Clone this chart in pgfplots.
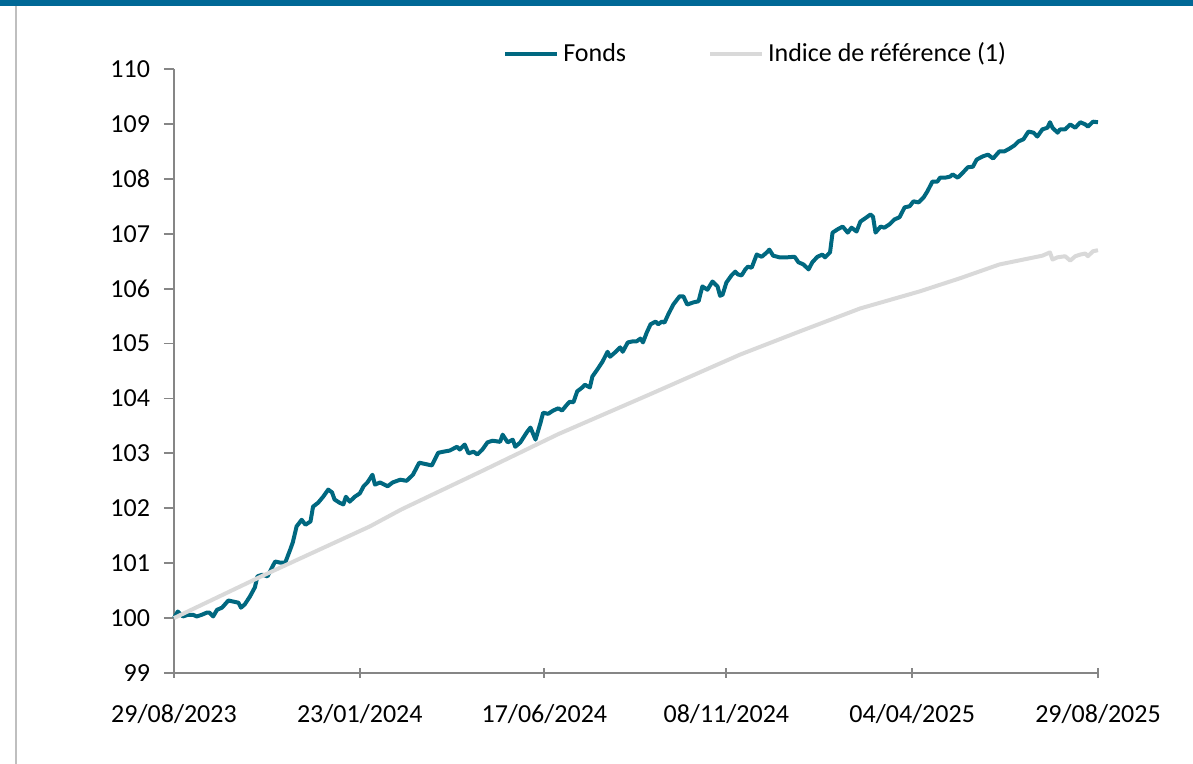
\documentclass[border=0pt]{standalone}
\usepackage{fontspec}
\setmainfont{Carlito}
\usepackage{pgfplots}
\pgfplotsset{compat=1.18}
\definecolor{fonds}{RGB}{0,104,128}
\definecolor{indice}{RGB}{217,217,217}
\definecolor{axisgray}{RGB}{134,134,134}
\definecolor{topbar}{RGB}{0,104,150}
\begin{document}
\begin{tikzpicture}
\path[use as bounding box] (0pt,0pt) rectangle (596.5pt,382pt);
\fill[topbar] (0pt,379pt) rectangle (596.5pt,382pt);
\fill[black!25] (7.5pt,0pt) rectangle (8.7pt,379pt);
\begin{axis}[
  at={(87pt,45.5pt)}, anchor=south west,
  scale only axis, width=462pt, height=302pt,
  xmin=0, xmax=731, ymin=99, ymax=110,
  axis x line*=bottom, axis y line*=left,
  axis line style={axisgray, line width=0.9pt},
  every tick/.style={axisgray, line width=0.9pt},
  xtick align=center, ytick align=outside,
  major tick length=5pt,
  xtick={0,147,293,437,584,731},
  xticklabels={29/08/2023,23/01/2024,17/06/2024,08/11/2024,04/04/2025,29/08/2025},
  ytick={99,100,...,110},
  /pgf/number format/assume math mode=true,
  tick label style={font=\fontsize{13}{15}\selectfont, text=black},
  xticklabel style={yshift=-9.5pt},
  yticklabel style={xshift=-3.5pt},
  legend style={draw=none, fill=none, at={(0.356,1.025)}, anchor=west,
    font=\fontsize{13}{15}\selectfont, inner sep=0pt,
    /tikz/every even column/.append style={column sep=39pt}},
  legend columns=2,
  legend image code/.code={\draw[#1] (0pt,0pt) -- (26pt,0pt);},
  clip=false,
]
\addplot[fonds, line width=2pt, line join=round] coordinates {
(0,100.00)(3,100.12)(7,100.03)(11,100.06)(15,100.06)(18,100.03)(22,100.06)(26,100.10)(28,100.10)(31,100.03)
(34,100.15)(38,100.19)(43,100.32)(47,100.30)(51,100.28)(53,100.19)(56,100.25)(60,100.39)(64,100.56)(66,100.76)
(70,100.79)(74,100.76)(78,100.94)(80,101.03)(84,101.01)(88,101.01)(92,101.25)(94,101.38)(97,101.67)(101,101.79)
(104,101.70)(108,101.76)(110,102.03)(114,102.10)(118,102.21)(122,102.34)(125,102.29)(127,102.16)(131,102.10)(134,102.07)
(136,102.21)(139,102.12)(143,102.21)(147,102.27)(150,102.40)(153,102.47)(157,102.61)(159,102.43)(163,102.47)(169,102.40)
(173,102.47)(179,102.52)(184,102.50)(189,102.61)(194,102.83)(200,102.80)(204,102.78)(209,103.01)(213,103.03)(218,103.05)
(224,103.12)(226,103.07)(230,103.16)(233,103.00)(237,103.03)(240,102.98)(244,103.07)(248,103.20)(252,103.23)(258,103.21)
(260,103.34)(264,103.20)(268,103.25)(270,103.12)(274,103.20)(279,103.38)(282,103.47)(286,103.25)(290,103.56)(292,103.74)
(296,103.72)(300,103.78)(304,103.82)(307,103.78)(311,103.89)(313,103.94)(316,103.93)(319,104.13)(323,104.20)(325,104.25)
(329,104.20)(331,104.40)(335,104.53)(339,104.67)(343,104.85)(345,104.76)(349,104.84)(353,104.93)(355,104.85)(359,105.02)
(363,105.04)(366,105.04)(369,105.09)(371,105.02)(374,105.20)(377,105.35)(381,105.40)(383,105.35)(386,105.40)(388,105.38)
(391,105.53)(395,105.71)(400,105.86)(403,105.86)(406,105.71)(411,105.75)(415,105.77)(418,106.04)(422,105.98)(426,106.13)
(430,106.04)(432,105.87)(434,105.89)(437,106.11)(441,106.24)(444,106.31)(446,106.26)(449,106.24)(452,106.35)(454,106.40)
(457,106.38)(461,106.62)(465,106.58)(469,106.66)(471,106.71)(474,106.60)(479,106.57)(485,106.57)(491,106.58)(494,106.48)
(498,106.44)(502,106.35)(505,106.48)(509,106.58)(513,106.62)(515,106.57)(519,106.66)(521,107.02)(525,107.08)(529,107.13)
(533,107.02)(536,107.11)(540,107.04)(543,107.22)(548,107.30)(551,107.35)(553,107.31)(555,107.02)(559,107.13)(562,107.11)
(566,107.17)(570,107.26)(574,107.30)(578,107.48)(582,107.50)(585,107.59)(589,107.57)(593,107.66)(596,107.77)(600,107.95)
(604,107.95)(606,108.02)(610,108.02)(614,108.04)(616,108.08)(620,108.02)(624,108.11)(628,108.21)(632,108.22)(635,108.35)
(640,108.41)(644,108.44)(648,108.37)(653,108.50)(657,108.50)(661,108.55)(665,108.61)(668,108.68)(672,108.72)(676,108.86)
(680,108.84)(683,108.77)(687,108.90)(691,108.93)(693,109.03)(695,108.93)(699,108.84)(701,108.90)(705,108.90)(709,108.99)
(713,108.93)(717,109.03)(721,108.99)(723,108.95)(727,109.04)(731,109.03)
};
\addlegendentry{Fonds}
\addplot[indice, line width=2pt, line join=round] coordinates {
(0,100.00)(70,100.77)(155,101.67)(180,101.98)(242,102.66)(304,103.35)(377,104.08)(448,104.80)(495,105.22)(543,105.64)
(590,105.95)(622,106.19)(653,106.44)(687,106.60)(693,106.66)(695,106.53)(699,106.57)(705,106.59)(709,106.51)(713,106.59)
(717,106.62)(721,106.64)(723,106.59)(727,106.68)(731,106.70)
};
\addlegendentry{Indice de référence (1)}
\end{axis}
\end{tikzpicture}
\end{document}
